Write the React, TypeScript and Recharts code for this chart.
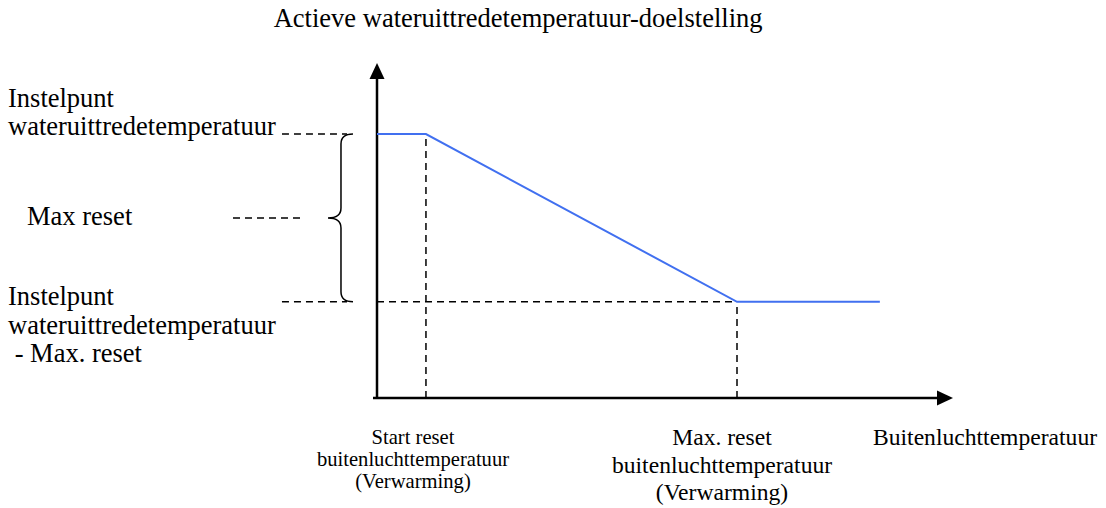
import React from "react";
import { ComposedChart, Line, XAxis, YAxis, ReferenceLine, ReferenceDot } from "recharts";

// Schematic reset curve (abstract units, x: outdoor temperature axis, y: target temperature axis)
const outdoorTemp = [0, 8.5, 62.5, 87.3];
const targetTemp = [78.8, 78.8, 28.7, 28.7];

const startResetX = 8.5;
const maxResetX = 62.5;
const setpointY = 78.8;
const setpointMinusResetY = 28.7;
const maxResetMidY = 53.7;

const titleLabel = ["Actieve wateruittredetemperatuur-doelstelling"];
const setpointLines = ["Instelpunt", "wateruittredetemperatuur"];
const maxResetLines = ["Max reset"];
const lowerLines = ["Instelpunt", "wateruittredetemperatuur", " - Max. reset"];
const startResetLines = ["Start reset", "buitenluchttemperatuur", "(Verwarming)"];
const maxResetOatLines = ["Max. reset", "buitenluchttemperatuur", "(Verwarming)"];
const xAxisTitle = ["Buitenluchttemperatuur"];

const data = outdoorTemp.map((x, i) => ({ x, y: targetTemp[i] }));

const FONT = '"Liberation Serif", "Times New Roman", Times, serif';
const BLUE = "#4170F0";

const makeText =
  (lines: string[], anchor: "start" | "middle", size: number, lh: number) =>
  (p: any) =>
    (
      <text
        x={p.cx}
        y={p.cy}
        textAnchor={anchor}
        fontSize={size}
        fontFamily={FONT}
        fill="#000"
        style={{ whiteSpace: "pre" }}
      >
        {lines.map((l, i) => (
          <tspan key={i} x={p.cx} dy={i === 0 ? 0 : lh}>
            {l}
          </tspan>
        ))}
      </text>
    );

const arrowX = (p: any) => (
  <g>
    <line x1={p.x1 - 4} y1={p.y1} x2={p.x2 - 12} y2={p.y2} stroke="#000" strokeWidth={2.5} />
    <polygon points={`${p.x2},${p.y2} ${p.x2 - 16},${p.y2 - 7.5} ${p.x2 - 16},${p.y2 + 7.5}`} fill="#000" />
  </g>
);

const arrowY = (p: any) => {
  const top = Math.min(p.y1, p.y2);
  const bottom = Math.max(p.y1, p.y2);
  return (
    <g>
      <line x1={p.x1} y1={bottom + 1} x2={p.x1} y2={top + 12} stroke="#000" strokeWidth={2.5} />
      <polygon points={`${p.x1},${top} ${p.x1 - 7.5},${top + 16} ${p.x1 + 7.5},${top + 16}`} fill="#000" />
    </g>
  );
};

const brace = (p: any) => {
  const x = p.x1;
  const t = Math.min(p.y1, p.y2);
  const b = Math.max(p.y1, p.y2);
  const m = (t + b) / 2;
  const v = x - 12;
  const tip = x - 25;
  const d = `M ${x} ${t} Q ${v} ${t} ${v} ${t + 10} L ${v} ${m - 10} Q ${v} ${m} ${tip} ${m} Q ${v} ${m} ${v} ${m + 10} L ${v} ${b - 10} Q ${v} ${b} ${x} ${b}`;
  return <path d={d} fill="none" stroke="#000" strokeWidth={1.5} />;
};

const dash = { stroke: "#000", strokeWidth: 1.5, strokeDasharray: "7 5" };

export default function App() {
  return (
    <div style={{ position: "absolute", left: 0, top: 0, background: "#fff" }}>
      <ComposedChart
        width={1106}
        height={508}
        data={data}
        margin={{ top: 63, right: 153, bottom: 110, left: 377 }}
      >
        <XAxis type="number" dataKey="x" domain={[0, 100]} hide allowDataOverflow />
        <YAxis type="number" domain={[0, 100]} hide allowDataOverflow />

        {/* dashed guide lines */}
        <ReferenceLine segment={[{ x: startResetX, y: 0 }, { x: startResetX, y: setpointY }]} ifOverflow="visible" {...dash} />
        <ReferenceLine segment={[{ x: maxResetX, y: 0 }, { x: maxResetX, y: setpointMinusResetY }]} ifOverflow="visible" {...dash} />
        <ReferenceLine segment={[{ x: 0, y: setpointMinusResetY }, { x: maxResetX, y: setpointMinusResetY }]} ifOverflow="visible" {...dash} />
        <ReferenceLine segment={[{ x: -16.5, y: setpointY }, { x: -5.2, y: setpointY }]} ifOverflow="visible" {...dash} />
        <ReferenceLine segment={[{ x: -16.5, y: setpointMinusResetY }, { x: -5.2, y: setpointMinusResetY }]} ifOverflow="visible" {...dash} />
        <ReferenceLine segment={[{ x: -25, y: maxResetMidY }, { x: -12.5, y: maxResetMidY }]} ifOverflow="visible" {...dash} />

        {/* brace */}
        <ReferenceLine segment={[{ x: -4.17, y: setpointY }, { x: -4.17, y: setpointMinusResetY }]} ifOverflow="visible" shape={brace} />

        {/* axes with arrows */}
        <ReferenceLine segment={[{ x: 0, y: 0 }, { x: 100, y: 0 }]} ifOverflow="visible" shape={arrowX} />
        <ReferenceLine segment={[{ x: 0, y: 0 }, { x: 0, y: 100 }]} ifOverflow="visible" shape={arrowY} />

        <Line
          type="linear"
          dataKey="y"
          stroke={BLUE}
          strokeWidth={2}
          dot={false}
          activeDot={false}
          isAnimationActive={false}
        />

        {/* labels */}
        <ReferenceDot x={24.5} y={110.75} r={0} ifOverflow="visible" shape={makeText(titleLabel, "middle", 26.5, 0)} />
        <ReferenceDot x={-64.06} y={86.87} r={0} ifOverflow="visible" shape={makeText(setpointLines, "start", 26.5, 28)} />
        <ReferenceDot x={-60.76} y={51.64} r={0} ifOverflow="visible" shape={makeText(maxResetLines, "start", 26.5, 0)} />
        <ReferenceDot x={-64.06} y={27.76} r={0} ifOverflow="visible" shape={makeText(lowerLines, "start", 26.5, 28.5)} />
        <ReferenceDot x={6.25} y={-13.73} r={0} ifOverflow="visible" shape={makeText(startResetLines, "middle", 20.6, 22)} />
        <ReferenceDot x={59.9} y={-14.03} r={0} ifOverflow="visible" shape={makeText(maxResetOatLines, "middle", 23.6, 27.5)} />
        <ReferenceDot x={86.11} y={-14.03} r={0} ifOverflow="visible" shape={makeText(xAxisTitle, "start", 23.6, 0)} />
      </ComposedChart>
    </div>
  );
}
